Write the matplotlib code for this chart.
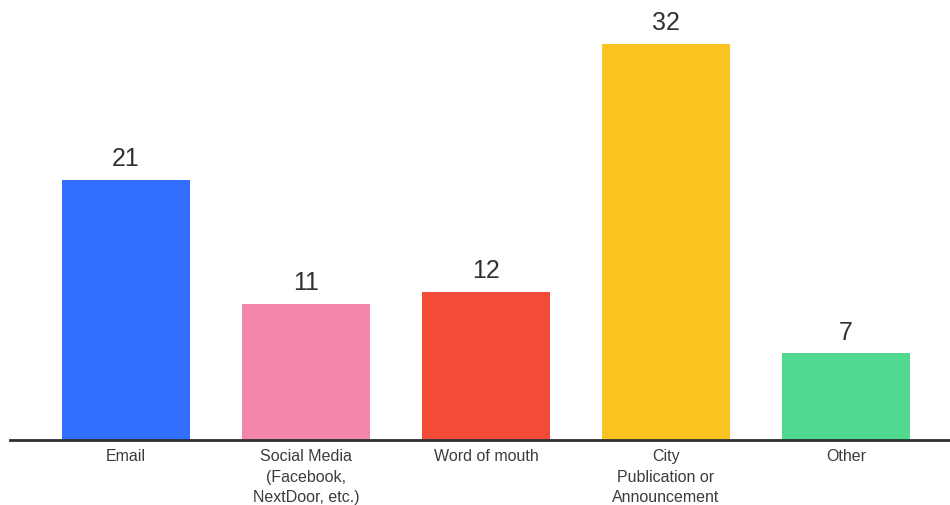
import matplotlib
matplotlib.use('Agg')
import matplotlib.pyplot as plt

# How people heard about it
categories = ['Email', 'Social Media\n(Facebook,\nNextDoor, etc.)', 'Word of mouth',
              'City\nPublication or\nAnnouncement', 'Other']
counts = [21, 11, 12, 32, 7]
colors = ['#336FFF', '#F486AC', '#F34B37', '#F9C41F', '#50D98F']

plt.rcParams['font.family'] = ['Liberation Sans', 'DejaVu Sans']

fig = plt.figure(figsize=(9.5, 5.06), dpi=100)
ax = fig.add_axes([0.0105, 0.1285, 0.9895, 0.8715])

x = range(len(categories))
bars = ax.bar(x, counts, width=0.71, color=colors, zorder=2)

for rect, v in zip(bars, counts):
    ax.annotate(str(v), (rect.get_x() + rect.get_width() / 2, rect.get_height()),
                xytext=(0, 7), textcoords='offset points',
                ha='center', va='bottom', fontsize=18, color='#2e3236')

ax.set_xlim(-0.644, 4.578)
ax.set_ylim(0, 35.64)
ax.set_xticks(list(x))
ax.set_xticklabels(categories, fontsize=11.5, color='#3a3c3f', linespacing=1.45)
ax.tick_params(axis='x', length=0, pad=6)
ax.set_yticks([])

for side in ['top', 'right', 'left']:
    ax.spines[side].set_visible(False)
ax.spines['bottom'].set_color('#2b2f33')
ax.spines['bottom'].set_linewidth(2)
ax.spines['bottom'].set_zorder(3)

fig.savefig('out.png', dpi=100, facecolor='white')
